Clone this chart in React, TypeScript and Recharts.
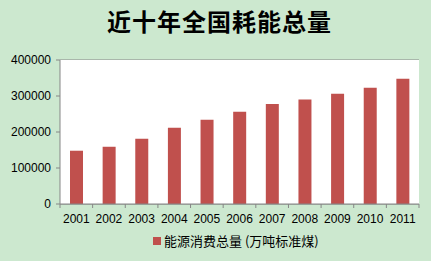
import React from "react";
import { Bar, BarChart, CartesianGrid, XAxis, YAxis } from "recharts";

const YEARS = ["2001", "2002", "2003", "2004", "2005", "2006", "2007", "2008", "2009", "2010", "2011"];
const ENERGY = [148000, 159000, 181000, 212000, 234000, 256000, 278000, 290000, 306000, 323000, 348000];
const Y_TICKS = [0, 100000, 200000, 300000, 400000];

const SERIES_NAME = "能源消费总量 (万吨标准煤)";
const TITLE = "近十年全国耗能总量";

const BG = "#cce8cf";
const BAR = "#c0504d";
const LINE = "#868686";
const FONT = "'Liberation Sans', Arial, sans-serif";
const CJK = "'Noto Sans CJK SC', sans-serif";

const W = 431;
const H = 261;
const PLOT_LEFT = 60;
const PLOT_RIGHT = 419;
const BAND = (PLOT_RIGHT - PLOT_LEFT) / YEARS.length;

const data = YEARS.map((year, i) => ({ year, value: ENERGY[i] }));

// Excel puts category ticks on the boundaries, not under the bars.
function YearTick(props: any) {
  const { x, y, payload, index } = props;
  const axisY = y - 10;
  return (
    <g>
      <line x1={x - BAND / 2} x2={x - BAND / 2} y1={axisY} y2={axisY + 4} stroke={LINE} />
      {index === YEARS.length - 1 && (
        <line x1={x + BAND / 2} x2={x + BAND / 2} y1={axisY} y2={axisY + 4} stroke={LINE} />
      )}
      <text x={x} y={y} dy="0.71em" textAnchor="middle" fontSize={12} fill="#000" fontFamily={FONT}>
        {payload.value}
      </text>
    </g>
  );
}

export default function App() {
  return (
    <div style={{ position: "absolute", left: 0, top: 0, width: W, height: H, background: BG, overflow: "hidden" }}>
      <div
        style={{
          position: "absolute",
          top: 5,
          left: 107,
          width: 216,
          textAlign: "center",
          whiteSpace: "nowrap",
          fontFamily: CJK,
          fontWeight: 700,
          fontSize: 24,
          letterSpacing: 1,
          lineHeight: "32px",
          color: "#000",
        }}
      >
        {TITLE}
      </div>
      <BarChart
        width={W}
        height={H}
        data={data}
        margin={{ top: 60, right: W - PLOT_RIGHT, bottom: 27, left: 0 }}
        style={{ position: "absolute", left: 0, top: 0 }}
      >
        <rect x={PLOT_LEFT} y={60} width={PLOT_RIGHT - PLOT_LEFT} height={144} fill="#fff" />
        <CartesianGrid vertical={false} stroke={LINE} />
        <XAxis
          dataKey="year"
          height={30}
          axisLine={{ stroke: LINE }}
          tickLine={false}
          tickSize={4}
          tickMargin={6}
          interval={0}
          tick={<YearTick />}
        />
        <YAxis
          width={60}
          domain={[0, 400000]}
          ticks={Y_TICKS}
          axisLine={{ stroke: LINE }}
          tickLine={{ stroke: LINE }}
          tickSize={4}
          tickMargin={5}
          tick={{ fontSize: 12, fill: "#000", fontFamily: FONT }}
        />
        <Bar dataKey="value" name={SERIES_NAME} fill={BAR} barSize={13} isAnimationActive={false} />
      </BarChart>
      <div
        style={{
          position: "absolute",
          top: 232,
          left: 153,
          display: "flex",
          alignItems: "center",
          whiteSpace: "nowrap",
          fontFamily: CJK,
          fontSize: 13,
          lineHeight: "18px",
          color: "#000",
        }}
      >
        <span style={{ display: "inline-block", width: 8, height: 8, background: BAR, marginRight: 3 }} />
        <span>{SERIES_NAME}</span>
      </div>
    </div>
  );
}
